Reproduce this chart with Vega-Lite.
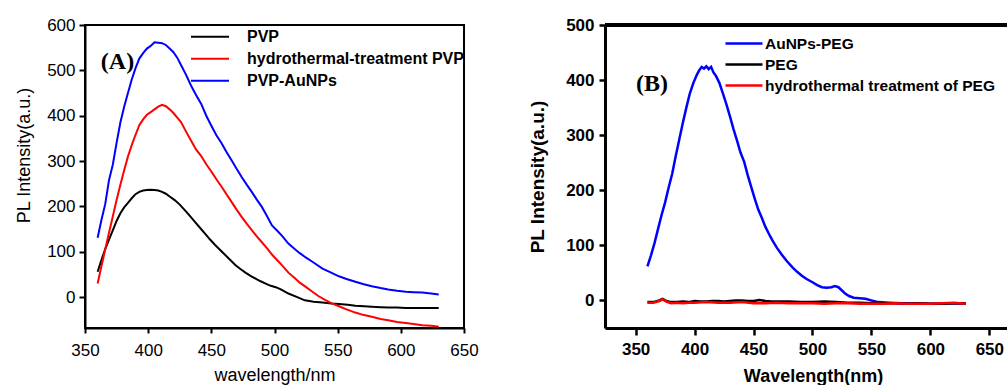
{
  "$schema": "https://vega.github.io/schema/vega-lite/v6.json",
  "autosize": {"type": "pad"},
  "padding": {"left": 14, "top": 15, "right": 0, "bottom": 0},
  "bounds": "flush",
  "spacing": 141,
  "config": {
    "font": "Liberation Sans",
    "view": {"stroke": null},
    "axis": {"grid": false, "domainColor": "black", "tickColor": "black", "labelColor": "black", "titleColor": "black", "labelFlush": false, "labelOverlap": false},
    "legend": {"labelColor": "black"}
  },
  "resolve": {"scale": {"color": "independent"}, "legend": {"color": "independent"}},
  "hconcat": [
    {
      "width": 379,
      "height": 303,
      "view": {"stroke": "black", "strokeWidth": 2},
      "data": {"values": [
        {"w":360,"v":56,"sample":"PVP"},{"w":363,"v":82,"sample":"PVP"},{"w":366,"v":106,"sample":"PVP"},{"w":369,"v":127,"sample":"PVP"},{"w":372,"v":147,"sample":"PVP"},{"w":375,"v":168,"sample":"PVP"},{"w":378,"v":185,"sample":"PVP"},{"w":381,"v":198,"sample":"PVP"},{"w":384,"v":208,"sample":"PVP"},{"w":387,"v":218,"sample":"PVP"},{"w":390,"v":227,"sample":"PVP"},{"w":393,"v":232,"sample":"PVP"},{"w":396,"v":235,"sample":"PVP"},{"w":399,"v":236,"sample":"PVP"},{"w":402,"v":237,"sample":"PVP"},{"w":405,"v":236,"sample":"PVP"},{"w":408,"v":235,"sample":"PVP"},{"w":411,"v":232,"sample":"PVP"},{"w":414,"v":228,"sample":"PVP"},{"w":417,"v":222,"sample":"PVP"},{"w":421,"v":214,"sample":"PVP"},{"w":425,"v":204,"sample":"PVP"},{"w":429,"v":192,"sample":"PVP"},{"w":433,"v":179,"sample":"PVP"},{"w":437,"v":166,"sample":"PVP"},{"w":441,"v":153,"sample":"PVP"},{"w":445,"v":140,"sample":"PVP"},{"w":449,"v":127,"sample":"PVP"},{"w":453,"v":115,"sample":"PVP"},{"w":457,"v":104,"sample":"PVP"},{"w":461,"v":93,"sample":"PVP"},{"w":465,"v":82,"sample":"PVP"},{"w":469,"v":71,"sample":"PVP"},{"w":473,"v":62,"sample":"PVP"},{"w":477,"v":54,"sample":"PVP"},{"w":481,"v":47,"sample":"PVP"},{"w":485,"v":41,"sample":"PVP"},{"w":489,"v":35,"sample":"PVP"},{"w":493,"v":30,"sample":"PVP"},{"w":497,"v":25,"sample":"PVP"},{"w":501,"v":22,"sample":"PVP"},{"w":505,"v":17,"sample":"PVP"},{"w":511,"v":8,"sample":"PVP"},{"w":518,"v":0,"sample":"PVP"},{"w":524,"v":-7,"sample":"PVP"},{"w":531,"v":-10,"sample":"PVP"},{"w":538,"v":-12,"sample":"PVP"},{"w":545,"v":-14,"sample":"PVP"},{"w":551,"v":-15,"sample":"PVP"},{"w":558,"v":-17,"sample":"PVP"},{"w":564,"v":-19,"sample":"PVP"},{"w":571,"v":-20,"sample":"PVP"},{"w":577,"v":-21,"sample":"PVP"},{"w":584,"v":-22,"sample":"PVP"},{"w":590,"v":-23,"sample":"PVP"},{"w":597,"v":-23,"sample":"PVP"},{"w":604,"v":-24,"sample":"PVP"},{"w":611,"v":-24,"sample":"PVP"},{"w":617,"v":-24,"sample":"PVP"},{"w":624,"v":-24,"sample":"PVP"},{"w":630,"v":-24,"sample":"PVP"},
        {"w":360,"v":30,"sample":"hydrothermal-treatment PVP"},{"w":363,"v":68,"sample":"hydrothermal-treatment PVP"},{"w":366,"v":105,"sample":"hydrothermal-treatment PVP"},{"w":369,"v":142,"sample":"hydrothermal-treatment PVP"},{"w":372,"v":178,"sample":"hydrothermal-treatment PVP"},{"w":375,"v":214,"sample":"hydrothermal-treatment PVP"},{"w":378,"v":248,"sample":"hydrothermal-treatment PVP"},{"w":381,"v":280,"sample":"hydrothermal-treatment PVP"},{"w":384,"v":310,"sample":"hydrothermal-treatment PVP"},{"w":387,"v":335,"sample":"hydrothermal-treatment PVP"},{"w":390,"v":358,"sample":"hydrothermal-treatment PVP"},{"w":393,"v":379,"sample":"hydrothermal-treatment PVP"},{"w":396,"v":392,"sample":"hydrothermal-treatment PVP"},{"w":399,"v":402,"sample":"hydrothermal-treatment PVP"},{"w":402,"v":408,"sample":"hydrothermal-treatment PVP"},{"w":405,"v":414,"sample":"hydrothermal-treatment PVP"},{"w":408,"v":420,"sample":"hydrothermal-treatment PVP"},{"w":411,"v":424,"sample":"hydrothermal-treatment PVP"},{"w":414,"v":421,"sample":"hydrothermal-treatment PVP"},{"w":417,"v":414,"sample":"hydrothermal-treatment PVP"},{"w":420,"v":406,"sample":"hydrothermal-treatment PVP"},{"w":423,"v":396,"sample":"hydrothermal-treatment PVP"},{"w":426,"v":386,"sample":"hydrothermal-treatment PVP"},{"w":430,"v":365,"sample":"hydrothermal-treatment PVP"},{"w":434,"v":345,"sample":"hydrothermal-treatment PVP"},{"w":438,"v":325,"sample":"hydrothermal-treatment PVP"},{"w":442,"v":311,"sample":"hydrothermal-treatment PVP"},{"w":446,"v":293,"sample":"hydrothermal-treatment PVP"},{"w":450,"v":277,"sample":"hydrothermal-treatment PVP"},{"w":454,"v":260,"sample":"hydrothermal-treatment PVP"},{"w":458,"v":244,"sample":"hydrothermal-treatment PVP"},{"w":462,"v":227,"sample":"hydrothermal-treatment PVP"},{"w":466,"v":210,"sample":"hydrothermal-treatment PVP"},{"w":470,"v":193,"sample":"hydrothermal-treatment PVP"},{"w":474,"v":177,"sample":"hydrothermal-treatment PVP"},{"w":478,"v":162,"sample":"hydrothermal-treatment PVP"},{"w":482,"v":148,"sample":"hydrothermal-treatment PVP"},{"w":486,"v":134,"sample":"hydrothermal-treatment PVP"},{"w":490,"v":121,"sample":"hydrothermal-treatment PVP"},{"w":494,"v":108,"sample":"hydrothermal-treatment PVP"},{"w":498,"v":94,"sample":"hydrothermal-treatment PVP"},{"w":502,"v":82,"sample":"hydrothermal-treatment PVP"},{"w":506,"v":70,"sample":"hydrothermal-treatment PVP"},{"w":511,"v":54,"sample":"hydrothermal-treatment PVP"},{"w":516,"v":42,"sample":"hydrothermal-treatment PVP"},{"w":520,"v":32,"sample":"hydrothermal-treatment PVP"},{"w":525,"v":22,"sample":"hydrothermal-treatment PVP"},{"w":530,"v":12,"sample":"hydrothermal-treatment PVP"},{"w":535,"v":2,"sample":"hydrothermal-treatment PVP"},{"w":540,"v":-6,"sample":"hydrothermal-treatment PVP"},{"w":545,"v":-13,"sample":"hydrothermal-treatment PVP"},{"w":551,"v":-20,"sample":"hydrothermal-treatment PVP"},{"w":557,"v":-27,"sample":"hydrothermal-treatment PVP"},{"w":564,"v":-34,"sample":"hydrothermal-treatment PVP"},{"w":570,"v":-39,"sample":"hydrothermal-treatment PVP"},{"w":577,"v":-43,"sample":"hydrothermal-treatment PVP"},{"w":584,"v":-48,"sample":"hydrothermal-treatment PVP"},{"w":590,"v":-51,"sample":"hydrothermal-treatment PVP"},{"w":597,"v":-55,"sample":"hydrothermal-treatment PVP"},{"w":604,"v":-57,"sample":"hydrothermal-treatment PVP"},{"w":610,"v":-59,"sample":"hydrothermal-treatment PVP"},{"w":617,"v":-62,"sample":"hydrothermal-treatment PVP"},{"w":624,"v":-63,"sample":"hydrothermal-treatment PVP"},{"w":630,"v":-65,"sample":"hydrothermal-treatment PVP"},
        {"w":360,"v":131,"sample":"PVP-AuNPs"},{"w":363,"v":170,"sample":"PVP-AuNPs"},{"w":366,"v":205,"sample":"PVP-AuNPs"},{"w":369,"v":258,"sample":"PVP-AuNPs"},{"w":372,"v":292,"sample":"PVP-AuNPs"},{"w":375,"v":340,"sample":"PVP-AuNPs"},{"w":378,"v":385,"sample":"PVP-AuNPs"},{"w":381,"v":420,"sample":"PVP-AuNPs"},{"w":384,"v":450,"sample":"PVP-AuNPs"},{"w":387,"v":480,"sample":"PVP-AuNPs"},{"w":390,"v":505,"sample":"PVP-AuNPs"},{"w":393,"v":526,"sample":"PVP-AuNPs"},{"w":396,"v":538,"sample":"PVP-AuNPs"},{"w":399,"v":548,"sample":"PVP-AuNPs"},{"w":402,"v":554,"sample":"PVP-AuNPs"},{"w":405,"v":562,"sample":"PVP-AuNPs"},{"w":408,"v":561,"sample":"PVP-AuNPs"},{"w":411,"v":560,"sample":"PVP-AuNPs"},{"w":414,"v":556,"sample":"PVP-AuNPs"},{"w":417,"v":548,"sample":"PVP-AuNPs"},{"w":420,"v":540,"sample":"PVP-AuNPs"},{"w":423,"v":528,"sample":"PVP-AuNPs"},{"w":426,"v":512,"sample":"PVP-AuNPs"},{"w":430,"v":490,"sample":"PVP-AuNPs"},{"w":434,"v":466,"sample":"PVP-AuNPs"},{"w":438,"v":445,"sample":"PVP-AuNPs"},{"w":442,"v":426,"sample":"PVP-AuNPs"},{"w":446,"v":400,"sample":"PVP-AuNPs"},{"w":450,"v":378,"sample":"PVP-AuNPs"},{"w":454,"v":357,"sample":"PVP-AuNPs"},{"w":458,"v":340,"sample":"PVP-AuNPs"},{"w":462,"v":320,"sample":"PVP-AuNPs"},{"w":466,"v":302,"sample":"PVP-AuNPs"},{"w":470,"v":283,"sample":"PVP-AuNPs"},{"w":474,"v":265,"sample":"PVP-AuNPs"},{"w":478,"v":248,"sample":"PVP-AuNPs"},{"w":482,"v":232,"sample":"PVP-AuNPs"},{"w":486,"v":215,"sample":"PVP-AuNPs"},{"w":490,"v":199,"sample":"PVP-AuNPs"},{"w":494,"v":179,"sample":"PVP-AuNPs"},{"w":498,"v":158,"sample":"PVP-AuNPs"},{"w":502,"v":147,"sample":"PVP-AuNPs"},{"w":506,"v":135,"sample":"PVP-AuNPs"},{"w":511,"v":118,"sample":"PVP-AuNPs"},{"w":516,"v":106,"sample":"PVP-AuNPs"},{"w":520,"v":97,"sample":"PVP-AuNPs"},{"w":525,"v":87,"sample":"PVP-AuNPs"},{"w":530,"v":78,"sample":"PVP-AuNPs"},{"w":538,"v":63,"sample":"PVP-AuNPs"},{"w":544,"v":55,"sample":"PVP-AuNPs"},{"w":551,"v":46,"sample":"PVP-AuNPs"},{"w":557,"v":40,"sample":"PVP-AuNPs"},{"w":564,"v":34,"sample":"PVP-AuNPs"},{"w":570,"v":29,"sample":"PVP-AuNPs"},{"w":577,"v":24,"sample":"PVP-AuNPs"},{"w":584,"v":20,"sample":"PVP-AuNPs"},{"w":590,"v":17,"sample":"PVP-AuNPs"},{"w":597,"v":14,"sample":"PVP-AuNPs"},{"w":604,"v":12,"sample":"PVP-AuNPs"},{"w":610,"v":11,"sample":"PVP-AuNPs"},{"w":617,"v":10,"sample":"PVP-AuNPs"},{"w":624,"v":8,"sample":"PVP-AuNPs"},{"w":630,"v":6,"sample":"PVP-AuNPs"}
      ]},
      "layer": [
        {
          "mark": {"type": "line", "strokeWidth": 2},
          "encoding": {
            "x": {"field": "w", "type": "quantitative", "scale": {"domain": [350, 650], "nice": false, "zero": false},
              "axis": {"values": [350, 400, 450, 500, 550, 600, 650], "title": "wavelength/nm", "titleFontSize": 18, "titleFontWeight": "normal", "labelFontSize": 17, "tickSize": 5, "tickWidth": 2, "domainWidth": 2, "labelPadding": 9, "titlePadding": 8}},
            "y": {"field": "v", "type": "quantitative", "scale": {"domain": [-68, 600], "nice": false, "zero": false},
              "axis": {"values": [0, 100, 200, 300, 400, 500, 600], "title": "PL Intensity(a.u.)", "titleFontSize": 18, "titleFontWeight": "normal", "labelFontSize": 17, "tickSize": 6, "tickWidth": 2, "domainWidth": 2, "labelPadding": 4, "titlePadding": 13, "titleY": 130}},
            "color": {"field": "sample", "type": "nominal",
              "scale": {"domain": ["PVP", "hydrothermal-treatment PVP", "PVP-AuNPs"], "range": ["#000000", "#ff0000", "#0000ff"]},
              "legend": {"title": null, "orient": "none", "direction": "vertical", "legendX": 105, "legendY": 1, "padding": 0, "symbolType": "stroke", "symbolSize": 1444, "symbolStrokeWidth": 2, "labelFontSize": 16, "labelFontWeight": "bold", "labelOffset": 17, "clipHeight": 21.5, "rowPadding": 0, "labelLimit": 0}}
          }
        },
        {
          "data": {"values": [{"x": 375.7, "y": 519, "t": "(A)"}]},
          "mark": {"type": "text", "font": "Liberation Serif", "fontWeight": "bold", "fontSize": 24, "align": "center", "baseline": "middle", "color": "black"},
          "encoding": {
            "x": {"field": "x", "type": "quantitative"},
            "y": {"field": "y", "type": "quantitative"},
            "text": {"field": "t"}
          }
        }
      ]
    },
    {
      "width": 402,
      "height": 303,
      "data": {"values": [
        {"w":360,"v":62,"s":"AuNPs-PEG"},{"w":363,"v":82,"s":"AuNPs-PEG"},{"w":366,"v":104,"s":"AuNPs-PEG"},{"w":369,"v":130,"s":"AuNPs-PEG"},{"w":372,"v":155,"s":"AuNPs-PEG"},{"w":375,"v":178,"s":"AuNPs-PEG"},{"w":378,"v":205,"s":"AuNPs-PEG"},{"w":381,"v":230,"s":"AuNPs-PEG"},{"w":384,"v":262,"s":"AuNPs-PEG"},{"w":387,"v":292,"s":"AuNPs-PEG"},{"w":390,"v":322,"s":"AuNPs-PEG"},{"w":393,"v":350,"s":"AuNPs-PEG"},{"w":396,"v":376,"s":"AuNPs-PEG"},{"w":399,"v":395,"s":"AuNPs-PEG"},{"w":402,"v":410,"s":"AuNPs-PEG"},{"w":404,"v":418,"s":"AuNPs-PEG"},{"w":406,"v":424,"s":"AuNPs-PEG"},{"w":408,"v":421,"s":"AuNPs-PEG"},{"w":410,"v":425,"s":"AuNPs-PEG"},{"w":412,"v":420,"s":"AuNPs-PEG"},{"w":414,"v":424,"s":"AuNPs-PEG"},{"w":416,"v":414,"s":"AuNPs-PEG"},{"w":418,"v":408,"s":"AuNPs-PEG"},{"w":421,"v":395,"s":"AuNPs-PEG"},{"w":424,"v":376,"s":"AuNPs-PEG"},{"w":427,"v":356,"s":"AuNPs-PEG"},{"w":430,"v":334,"s":"AuNPs-PEG"},{"w":433,"v":311,"s":"AuNPs-PEG"},{"w":436,"v":290,"s":"AuNPs-PEG"},{"w":439,"v":268,"s":"AuNPs-PEG"},{"w":442,"v":252,"s":"AuNPs-PEG"},{"w":445,"v":228,"s":"AuNPs-PEG"},{"w":448,"v":206,"s":"AuNPs-PEG"},{"w":451,"v":185,"s":"AuNPs-PEG"},{"w":454,"v":165,"s":"AuNPs-PEG"},{"w":457,"v":150,"s":"AuNPs-PEG"},{"w":460,"v":134,"s":"AuNPs-PEG"},{"w":463,"v":121,"s":"AuNPs-PEG"},{"w":466,"v":109,"s":"AuNPs-PEG"},{"w":470,"v":95,"s":"AuNPs-PEG"},{"w":474,"v":83,"s":"AuNPs-PEG"},{"w":478,"v":72,"s":"AuNPs-PEG"},{"w":483,"v":60,"s":"AuNPs-PEG"},{"w":487,"v":52,"s":"AuNPs-PEG"},{"w":491,"v":45,"s":"AuNPs-PEG"},{"w":495,"v":39,"s":"AuNPs-PEG"},{"w":500,"v":33,"s":"AuNPs-PEG"},{"w":504,"v":28,"s":"AuNPs-PEG"},{"w":508,"v":24,"s":"AuNPs-PEG"},{"w":512,"v":23,"s":"AuNPs-PEG"},{"w":516,"v":24,"s":"AuNPs-PEG"},{"w":519,"v":26,"s":"AuNPs-PEG"},{"w":522,"v":24,"s":"AuNPs-PEG"},{"w":525,"v":18,"s":"AuNPs-PEG"},{"w":528,"v":12,"s":"AuNPs-PEG"},{"w":531,"v":8,"s":"AuNPs-PEG"},{"w":535,"v":5,"s":"AuNPs-PEG"},{"w":540,"v":4,"s":"AuNPs-PEG"},{"w":545,"v":3,"s":"AuNPs-PEG"},{"w":550,"v":0,"s":"AuNPs-PEG"},{"w":556,"v":-3,"s":"AuNPs-PEG"},{"w":565,"v":-4,"s":"AuNPs-PEG"},{"w":575,"v":-5,"s":"AuNPs-PEG"},{"w":590,"v":-5,"s":"AuNPs-PEG"},{"w":600,"v":-6,"s":"AuNPs-PEG"},{"w":610,"v":-6,"s":"AuNPs-PEG"},{"w":620,"v":-5,"s":"AuNPs-PEG"},{"w":630,"v":-6,"s":"AuNPs-PEG"},
        {"w":360,"v":-3,"s":"PEG"},{"w":365,"v":-3,"s":"PEG"},{"w":370,"v":0,"s":"PEG"},{"w":373,"v":3,"s":"PEG"},{"w":376,"v":-1,"s":"PEG"},{"w":380,"v":-3,"s":"PEG"},{"w":385,"v":-3,"s":"PEG"},{"w":390,"v":-2,"s":"PEG"},{"w":395,"v":-3,"s":"PEG"},{"w":400,"v":-1,"s":"PEG"},{"w":405,"v":-2,"s":"PEG"},{"w":410,"v":-2,"s":"PEG"},{"w":415,"v":-1,"s":"PEG"},{"w":420,"v":-1,"s":"PEG"},{"w":425,"v":-2,"s":"PEG"},{"w":430,"v":-1,"s":"PEG"},{"w":435,"v":0,"s":"PEG"},{"w":440,"v":0,"s":"PEG"},{"w":445,"v":-1,"s":"PEG"},{"w":450,"v":-1,"s":"PEG"},{"w":455,"v":1,"s":"PEG"},{"w":460,"v":-1,"s":"PEG"},{"w":465,"v":-2,"s":"PEG"},{"w":470,"v":-2,"s":"PEG"},{"w":480,"v":-2,"s":"PEG"},{"w":490,"v":-3,"s":"PEG"},{"w":500,"v":-3,"s":"PEG"},{"w":510,"v":-2,"s":"PEG"},{"w":520,"v":-3,"s":"PEG"},{"w":530,"v":-4,"s":"PEG"},{"w":540,"v":-4,"s":"PEG"},{"w":550,"v":-5,"s":"PEG"},{"w":560,"v":-5,"s":"PEG"},{"w":570,"v":-5,"s":"PEG"},{"w":580,"v":-6,"s":"PEG"},{"w":590,"v":-5,"s":"PEG"},{"w":600,"v":-6,"s":"PEG"},{"w":610,"v":-6,"s":"PEG"},{"w":620,"v":-5,"s":"PEG"},{"w":630,"v":-5,"s":"PEG"},
        {"w":360,"v":-4,"s":"hydrothermal treatment of PEG"},{"w":365,"v":-4,"s":"hydrothermal treatment of PEG"},{"w":370,"v":-1,"s":"hydrothermal treatment of PEG"},{"w":373,"v":2,"s":"hydrothermal treatment of PEG"},{"w":376,"v":-2,"s":"hydrothermal treatment of PEG"},{"w":380,"v":-5,"s":"hydrothermal treatment of PEG"},{"w":385,"v":-4,"s":"hydrothermal treatment of PEG"},{"w":390,"v":-5,"s":"hydrothermal treatment of PEG"},{"w":395,"v":-4,"s":"hydrothermal treatment of PEG"},{"w":400,"v":-4,"s":"hydrothermal treatment of PEG"},{"w":410,"v":-3,"s":"hydrothermal treatment of PEG"},{"w":420,"v":-4,"s":"hydrothermal treatment of PEG"},{"w":430,"v":-4,"s":"hydrothermal treatment of PEG"},{"w":440,"v":-3,"s":"hydrothermal treatment of PEG"},{"w":450,"v":-5,"s":"hydrothermal treatment of PEG"},{"w":460,"v":-5,"s":"hydrothermal treatment of PEG"},{"w":470,"v":-4,"s":"hydrothermal treatment of PEG"},{"w":480,"v":-5,"s":"hydrothermal treatment of PEG"},{"w":490,"v":-5,"s":"hydrothermal treatment of PEG"},{"w":500,"v":-5,"s":"hydrothermal treatment of PEG"},{"w":510,"v":-6,"s":"hydrothermal treatment of PEG"},{"w":520,"v":-5,"s":"hydrothermal treatment of PEG"},{"w":530,"v":-5,"s":"hydrothermal treatment of PEG"},{"w":540,"v":-6,"s":"hydrothermal treatment of PEG"},{"w":550,"v":-6,"s":"hydrothermal treatment of PEG"},{"w":560,"v":-6,"s":"hydrothermal treatment of PEG"},{"w":570,"v":-5,"s":"hydrothermal treatment of PEG"},{"w":580,"v":-6,"s":"hydrothermal treatment of PEG"},{"w":590,"v":-6,"s":"hydrothermal treatment of PEG"},{"w":600,"v":-6,"s":"hydrothermal treatment of PEG"},{"w":610,"v":-5,"s":"hydrothermal treatment of PEG"},{"w":620,"v":-4,"s":"hydrothermal treatment of PEG"},{"w":630,"v":-6,"s":"hydrothermal treatment of PEG"}
      ]},
      "layer": [
        {
          "mark": {"type": "line", "strokeWidth": 2.5},
          "encoding": {
            "x": {"field": "w", "type": "quantitative", "scale": {"domain": [324, 665], "nice": false, "zero": false},
              "axis": {"values": [350, 400, 450, 500, 550, 600, 650], "title": "Wavelength(nm)", "titleFontSize": 18, "titleFontWeight": "bold", "labelFontSize": 17, "labelFontWeight": "bold", "tickSize": 7, "tickWidth": 2.5, "domainWidth": 3, "labelPadding": 6, "titlePadding": 10, "titleX": 208}},
            "y": {"field": "v", "type": "quantitative", "scale": {"domain": [-50, 500], "nice": false, "zero": false},
              "axis": {"values": [0, 100, 200, 300, 400, 500], "title": "PL Intensity(a.u.)", "titleFontSize": 19, "titleFontWeight": "bold", "labelFontSize": 17, "labelFontWeight": "bold", "tickSize": 6, "tickWidth": 2.5, "domainWidth": 3, "labelPadding": 5, "titlePadding": 18}},
            "color": {"field": "s", "type": "nominal",
              "scale": {"domain": ["AuNPs-PEG", "PEG", "hydrothermal treatment of PEG"], "range": ["#0000ff", "#000000", "#ff0000"]},
              "legend": {"title": null, "orient": "none", "direction": "vertical", "legendX": 119, "legendY": 8, "padding": 0, "symbolType": "stroke", "symbolSize": 1369, "symbolStrokeWidth": 2.5, "labelFontSize": 15.5, "labelFontWeight": "bold", "labelOffset": 1, "clipHeight": 21, "rowPadding": 0, "labelLimit": 0}}
          }
        },
        {
          "mark": {"type": "rule", "strokeWidth": 2.5, "color": "black"},
          "encoding": {"y": {"datum": 500}}
        },
        {
          "data": {"values": [{"x": 363.8, "y": 393, "t": "(B)"}]},
          "mark": {"type": "text", "font": "Liberation Serif", "fontWeight": "bold", "fontSize": 24, "align": "center", "baseline": "middle", "color": "black"},
          "encoding": {
            "x": {"field": "x", "type": "quantitative"},
            "y": {"field": "y", "type": "quantitative"},
            "text": {"field": "t"}
          }
        }
      ]
    }
  ]
}
